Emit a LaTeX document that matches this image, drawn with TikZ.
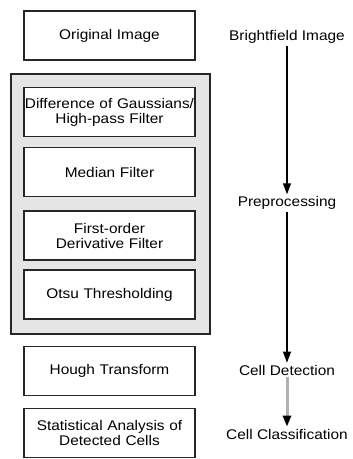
\documentclass[tikz,border=0pt]{standalone}
\usepackage{fontspec}
\setmainfont{Liberation Sans}[FakeStretch=1.1]
\usetikzlibrary{arrows.meta}
\begin{document}
\begin{tikzpicture}[x=1pt,y=-1pt,
  stage/.style={draw=black!85,line width=1.1pt,fill=white,minimum width=171pt,minimum height=49pt,
    text width=171pt,align=center,inner sep=0pt,font=\fontsize{14}{15}\selectfont},
  lbl/.style={inner sep=2pt,font=\fontsize{14}{15}\selectfont},
  tip/.style={-{Triangle[length=11pt,width=8pt,color=black]}},
  flow/.style={line width=1.1pt,tip}]
\useasboundingbox (0,0) rectangle (353,459);
% grey frame around the preprocessing steps
\draw[draw=black!85,line width=1.3pt,fill=black!10] (11,74) rectangle (210,334);
% pipeline stages
\node[stage] (orig)   at (109.5,35.5) {Original Image};
\node[stage] (dog)    at (109.5,112)  {Difference of Gaussians/\\High-pass Filter};
\node[stage] (median) at (109.5,172)  {Median Filter};
\node[stage] (deriv)  at (109.5,235.5){First-order\\Derivative Filter};
\node[stage] (otsu)   at (109.5,294.5){Otsu Thresholding};
\node[stage] (hough)  at (109.5,371)  {Hough Transform};
\node[stage] (stats)  at (109.5,433)  {Statistical Analysis of\\Detected Cells};
% phase labels
\node[lbl] (bright) at (287,37)  {Brightfield Image};
\node[lbl] (pre)    at (287,203) {Preprocessing};
\node[lbl] (detect) at (287,370) {Cell Detection};
\node[lbl] (class)  at (287,434) {Cell Classification};
\draw[flow] (bright) -- (pre);
\draw[flow] (pre) -- (detect);
\draw[flow,draw=black!30,line width=3pt] (detect) -- (class);
\end{tikzpicture}
\end{document}
